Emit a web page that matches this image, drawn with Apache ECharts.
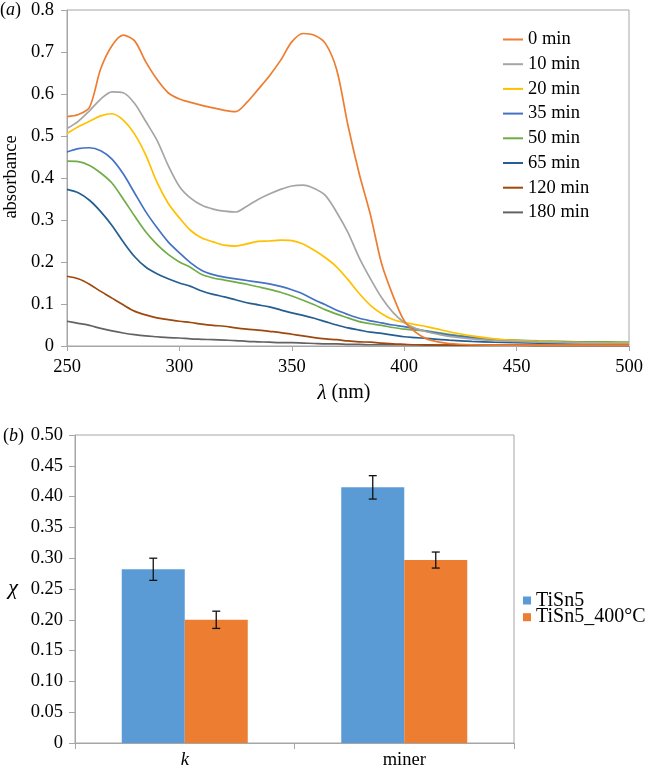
<!DOCTYPE html>
<html>
<head>
<meta charset="utf-8">
<script src="https://cdn.jsdelivr.net/npm/echarts@6/dist/echarts.min.js"></script>
<style>
html,body{margin:0;padding:0;background:#fff;}
#c{width:649px;height:770px;}
</style>
</head>
<body>
<div id="c"></div>
<script>
// ---- panel (a): absorbance spectra ----
const wavelengths = [250,255,260,265,270,275,280,285,290,295,300,305,310,315,320,325,330,335,340,345,350,355,360,365,370,375,380,385,390,395,400,405,410,415,420,430,440,450,460,470,480,490,500];
const seriesNames = ['0 min','10 min','20 min','35 min','50 min','65 min','120 min','180 min'];
const abs0   = [0.546,0.551,0.568,0.660,0.715,0.740,0.727,0.677,0.635,0.603,0.588,0.580,0.573,0.567,0.561,0.558,0.580,0.611,0.643,0.680,0.724,0.744,0.740,0.720,0.657,0.525,0.410,0.312,0.195,0.120,0.060,0.033,0.017,0.010,0.006,0.003,0.002,0.002,0.002,0.002,0.002,0.002,0.002];
const abs10  = [0.518,0.535,0.560,0.588,0.605,0.603,0.578,0.535,0.490,0.430,0.380,0.352,0.335,0.326,0.321,0.319,0.333,0.349,0.362,0.373,0.381,0.383,0.375,0.358,0.318,0.270,0.210,0.160,0.115,0.080,0.056,0.042,0.034,0.028,0.023,0.017,0.013,0.011,0.009,0.008,0.007,0.006,0.006];
const abs20  = [0.506,0.522,0.535,0.548,0.553,0.538,0.505,0.455,0.390,0.340,0.305,0.275,0.257,0.248,0.240,0.238,0.243,0.249,0.250,0.252,0.251,0.243,0.228,0.210,0.188,0.158,0.125,0.097,0.077,0.063,0.056,0.051,0.046,0.040,0.034,0.024,0.017,0.013,0.011,0.009,0.008,0.007,0.007];
const abs35  = [0.462,0.470,0.472,0.465,0.445,0.410,0.365,0.320,0.282,0.248,0.222,0.198,0.180,0.170,0.164,0.160,0.156,0.152,0.148,0.142,0.134,0.124,0.110,0.098,0.085,0.075,0.066,0.060,0.055,0.050,0.046,0.041,0.035,0.030,0.026,0.020,0.015,0.012,0.010,0.009,0.008,0.007,0.007];
const abs50  = [0.440,0.439,0.430,0.412,0.388,0.350,0.310,0.272,0.242,0.218,0.200,0.187,0.170,0.162,0.157,0.152,0.147,0.141,0.135,0.128,0.119,0.109,0.098,0.086,0.076,0.067,0.058,0.053,0.049,0.044,0.040,0.038,0.036,0.032,0.028,0.021,0.016,0.014,0.012,0.011,0.010,0.010,0.009];
const abs65  = [0.373,0.365,0.347,0.320,0.287,0.248,0.213,0.188,0.172,0.160,0.150,0.142,0.131,0.123,0.117,0.110,0.103,0.098,0.093,0.086,0.079,0.073,0.066,0.058,0.050,0.043,0.038,0.033,0.030,0.026,0.022,0.020,0.018,0.016,0.014,0.011,0.009,0.008,0.007,0.006,0.006,0.005,0.005];
const abs120 = [0.166,0.160,0.147,0.130,0.114,0.098,0.083,0.074,0.067,0.063,0.059,0.056,0.052,0.049,0.047,0.043,0.040,0.038,0.035,0.032,0.028,0.024,0.020,0.017,0.015,0.012,0.010,0.009,0.007,0.005,0.004,0.003,0.003,0.002,0.002,0.002,0.002,0.002,0.001,0.001,0.001,0.001,0.001];
const abs180 = [0.059,0.054,0.049,0.042,0.036,0.031,0.027,0.024,0.022,0.020,0.019,0.017,0.016,0.015,0.014,0.013,0.011,0.010,0.009,0.008,0.008,0.007,0.006,0.005,0.005,0.004,0.004,0.003,0.003,0.003,0.003,0.003,0.002,0.002,0.002,0.002,0.002,0.002,0.002,0.002,0.002,0.002,0.002];
const spectra = [abs0,abs10,abs20,abs35,abs50,abs65,abs120,abs180];
const lineColors = ['#ED7D31','#A5A5A5','#FFC000','#4472C4','#70AD47','#255E91','#9E480E','#636363'];

// ---- panel (b): chi bars ----
const barCategories = ['k','miner'];
const barNames = ['TiSn5','TiSn5_400°C'];
const chiTiSn5 = [0.282,0.415];
const chiTiSn5_400 = [0.200,0.297];
const errTiSn5 = [0.018,0.019];
const errTiSn5_400 = [0.014,0.013];
const barColors = ['#5B9BD5','#ED7D31'];

const FONT = '"Liberation Serif", "Times New Roman", serif';
const AXIS_C = '#A6A6A6';

const chart = echarts.init(document.getElementById('c'), null, {renderer:'canvas'});

const lineSeries = seriesNames.map((n,k)=>({
  name:n, type:'line', xAxisIndex:0, yAxisIndex:0,
  data: wavelengths.map((w,i)=>[w, spectra[k][i]]),
  smooth:0.3, showSymbol:false, symbol:'none',
  lineStyle:{width:1.7, color:lineColors[k]}, itemStyle:{color:lineColors[k]},
  z: 10 - k
}));

const errData = [];
barCategories.forEach((c,i)=>{
  errData.push([i, chiTiSn5[i], errTiSn5[i], 0]);
  errData.push([i, chiTiSn5_400[i], errTiSn5_400[i], 1]);
});

const option = {
  animation:false,
  textStyle:{fontFamily:FONT},
  grid:[
    {left:67, top:10, width:562, height:336, show:true, borderColor:AXIS_C, borderWidth:1, containLabel:false},
    {left:75, top:435, width:439, height:308, show:true, borderColor:AXIS_C, borderWidth:1, containLabel:false}
  ],
  xAxis:[
    {gridIndex:0, type:'value', min:250, max:500, interval:50,
     axisLine:{lineStyle:{color:AXIS_C}}, axisTick:{show:true, length:5, lineStyle:{color:AXIS_C}},
     splitLine:{show:false},
     axisLabel:{color:'#000', fontSize:18.5, fontFamily:FONT, margin:12}},
    {gridIndex:1, type:'category', data:barCategories,
     axisLine:{lineStyle:{color:AXIS_C}}, axisTick:{show:true, length:6, alignWithLabel:false, lineStyle:{color:AXIS_C}},
     axisLabel:{color:'#000', fontSize:18.5, fontFamily:FONT, margin:8,
       formatter:v=> v==='k' ? '{i|k}' : v,
       rich:{i:{fontStyle:'italic', fontSize:18.5, fontFamily:FONT, color:'#000'}}}}
  ],
  yAxis:[
    {gridIndex:0, type:'value', min:0, max:0.8, interval:0.1,
     axisLine:{show:true, lineStyle:{color:AXIS_C}}, axisTick:{show:true, length:6, lineStyle:{color:AXIS_C}},
     splitLine:{show:false},
     axisLabel:{color:'#000', fontSize:18.5, fontFamily:FONT, margin:13,
       formatter:v=> v===0 ? '0' : v.toFixed(1)}},
    {gridIndex:1, type:'value', min:0, max:0.5, interval:0.05,
     axisLine:{show:true, lineStyle:{color:AXIS_C}}, axisTick:{show:true, length:6, lineStyle:{color:AXIS_C}},
     splitLine:{show:false},
     axisLabel:{color:'#000', fontSize:18.5, fontFamily:FONT, margin:12,
       formatter:v=> Math.abs(v)<1e-9 ? '0' : v.toFixed(2)}}
  ],
  legend:[
    {data:seriesNames, orient:'vertical', left:498, top:25, itemWidth:20, itemHeight:2, itemGap:5.7,
     icon:'rect', selectedMode:false,
     textStyle:{fontSize:18.5, fontFamily:FONT, color:'#000', lineHeight:18}},
    {data:barNames, orient:'vertical', left:518, top:585.5, itemWidth:8, itemHeight:8, itemGap:-3.3,
     icon:'rect', selectedMode:false,
     textStyle:{fontSize:20, fontFamily:FONT, color:'#000', lineHeight:16.7}}
  ],
  graphic:[
    {type:'text', left:0, top:1, style:{text:'({i|a})', font:'18px "Liberation Serif"', fill:'#000',
      rich:{i:{fontStyle:'italic', fontSize:18, fontFamily:FONT}}}},
    {type:'text', left:3, top:427, style:{text:'({i|b})', font:'18px "Liberation Serif"', fill:'#000',
      rich:{i:{fontStyle:'italic', fontSize:18, fontFamily:FONT}}}},
    {type:'text', x:11, y:177, rotation:Math.PI/2,
      style:{text:'absorbance', font:'18.5px "Liberation Serif"', fill:'#000', align:'center', verticalAlign:'middle'}},
    {type:'text', x:344, y:393,
      style:{text:'{i|λ} (nm)', font:'20px "Liberation Serif"', fill:'#000', align:'center', verticalAlign:'middle',
        rich:{i:{fontStyle:'italic', fontSize:21, fontFamily:FONT}}}},
    {type:'text', x:13, y:588,
      style:{text:'χ', font:'italic 22px "Liberation Serif"', fill:'#000', align:'center', verticalAlign:'middle'}}
  ],
  series: lineSeries.concat([
    {name:barNames[0], type:'bar', xAxisIndex:1, yAxisIndex:1, data:chiTiSn5,
     barWidth:'28.7%', barGap:'0%', itemStyle:{color:barColors[0]}},
    {name:barNames[1], type:'bar', xAxisIndex:1, yAxisIndex:1, data:chiTiSn5_400,
     barWidth:'28.7%', barGap:'0%', itemStyle:{color:barColors[1]}},
    {type:'custom', xAxisIndex:1, yAxisIndex:1, data:errData, z:20,
     encode:{x:0, y:1},
     renderItem:function(params, api){
       const ci = api.value(0), v = api.value(1), e = api.value(2), si = api.value(3);
       const band = api.size([1,0])[0];
       const bw = band*0.287;
       const cx = api.coord([ci, v])[0] + (si===0 ? -bw/2 : bw/2);
       const yT = api.coord([ci, v+e])[1];
       const yB = api.coord([ci, v-e])[1];
       const st = {stroke:'#111', lineWidth:1.3};
       return {type:'group', children:[
         {type:'line', shape:{x1:cx, y1:yT, x2:cx, y2:yB}, style:st},
         {type:'line', shape:{x1:cx-4, y1:yT, x2:cx+4, y2:yT}, style:st},
         {type:'line', shape:{x1:cx-4, y1:yB, x2:cx+4, y2:yB}, style:st}
       ]};
     }}
  ])
};
chart.setOption(option);
</script>
</body>
</html>
